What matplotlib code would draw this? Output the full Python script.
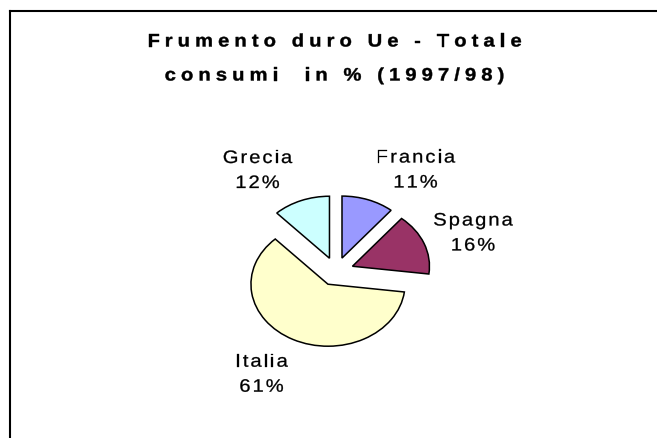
import matplotlib
matplotlib.use('Agg')
import matplotlib.pyplot as plt
from matplotlib.font_manager import FontProperties, findfont, get_font
from matplotlib.lines import Line2D
from matplotlib.patches import PathPatch
from matplotlib.textpath import TextPath
from matplotlib.transforms import Affine2D, IdentityTransform

# Data
countries = ['Francia', 'Spagna', 'Italia', 'Grecia']
shares = [11, 16, 61, 12]
colors = ['#9999FF', '#993366', '#FFFFCC', '#CCFFFF']
title_lines = ['Frumento duro Ue - Totale', 'consumi  in % (1997/98)']

W, H, DPI = 657, 439, 100
SX = 1.12  # text looks a little stretched sideways
fig = plt.figure(figsize=(W / DPI, H / DPI), dpi=DPI)
fig.patch.set_facecolor('white')


def stretched_text(x_center, baseline, s, prop, em, tracking, lw=0.3):
    """Text as paths, stretched by SX, with extra letter spacing (px, y from top)."""
    font = get_font(findfont(prop))
    font.set_size(em, 72)
    advances = [font.load_char(ord(ch)).linearHoriAdvance / 65536 * SX for ch in s]
    total = sum(advances) + tracking * (len(s) - 1)
    x = x_center - total / 2
    for ch, adv in zip(s, advances):
        if ch != ' ':
            path = TextPath((0, 0), ch, size=em, prop=prop)
            path = Affine2D().scale(SX, 1).translate(x, H - baseline).transform_path(path)
            fig.add_artist(PathPatch(path, transform=IdentityTransform(),
                                     facecolor='black', edgecolor='black', lw=lw))
        x += adv + tracking


# frame (only left and top edges are visible in the picture)
fig.add_artist(Line2D([10 / W, 10 / W], [0, 1 - 12 / H], color='black', lw=1.5))
fig.add_artist(Line2D([10 / W, 1], [1 - 12 / H, 1 - 12 / H], color='black', lw=1.5))

# title
title_prop = FontProperties(family='Liberation Sans', weight='bold')
for line, base in zip(title_lines, [47.5, 81.5]):
    stretched_text(334.5, base, line, title_prop, 18, 5.1)

# pie: center (336, 272.5) px, rx 77 px, ry 62 px
cx, cy, rx, ry = 336, 272.5, 77, 62
ax = fig.add_axes([(cx - 2 * rx) / W, (H - cy - 2 * ry) / H, 4 * rx / W, 4 * ry / H])
ax.pie(shares, colors=colors, startangle=90, counterclock=False,
       explode=[0.23] * len(shares),
       wedgeprops=dict(edgecolor='black', linewidth=1.1))
ax.set_aspect('auto')
ax.set_xlim(-2, 2)
ax.set_ylim(-2, 2)
ax.axis('off')

# data labels (x centre, first baseline) in px
label_pos = {'Francia': (415.5, 163.5), 'Spagna': (473, 226.5),
             'Italia': (261.5, 367.7), 'Grecia': (257.5, 164)}
label_prop = FontProperties(family='Liberation Sans')
for name, val in zip(countries, shares):
    x, b = label_pos[name]
    stretched_text(x, b, name, label_prop, 18, 2.0, lw=0.2)
    stretched_text(x, b + 25, f'{val}%', label_prop, 18, 2.0, lw=0.2)

fig.savefig('out.png', dpi=DPI, facecolor='white')
